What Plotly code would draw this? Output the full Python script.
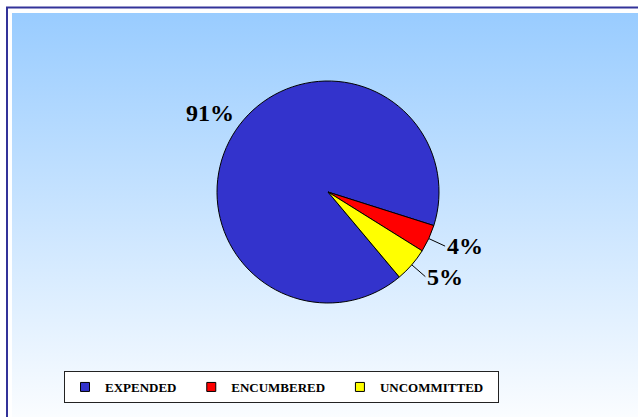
import math
import plotly.graph_objects as go

# ---- data -------------------------------------------------------------
categories = ["EXPENDED", "ENCUMBERED", "UNCOMMITTED"]
shares = [91, 4, 5]                      # percent of total
slice_colors = ["#3333CC", "#FF0000", "#FFFF00"]

# ---- layout constants (pixels) -----------------------------------------
W, H = 638, 417
FONT = "Times New Roman, Liberation Serif, Times, serif"
CX, CY, R = 328, 192, 111        # pie centre (from top-left) and radius
START_ANGLE = 140                # first slice starts here, clockwise from 12 o'clock
LABEL_DIST = 1.28                # centre distance of the large-slice label, in radii
LEADER_LEN = 18                  # leader-line length for small-slice labels
LEGEND_PAD = "\u00a0" * 3        # extra spacing after each legend entry

fig = go.Figure()

# Light-blue to white gradient panel behind the chart, in pixel coordinates
panel_left, panel_top = 12, H - 13
fig.add_trace(go.Scatter(
    x=[panel_left, W + 5, W + 5, panel_left, panel_left],
    y=[-5, -5, panel_top, panel_top, -5],
    mode="lines", line=dict(width=0), fill="toself",
    fillgradient=dict(type="vertical", start=-20, stop=panel_top,
                      colorscale=[[0, "#FFFFFF"], [1, "#99CCFF"]]),
    hoverinfo="skip", showlegend=False,
))

# The pie itself
fig.add_trace(go.Pie(
    labels=categories, values=shares, sort=False,
    direction="clockwise", rotation=START_ANGLE,
    marker=dict(colors=slice_colors, line=dict(color="#000000", width=1)),
    textinfo="none", hoverinfo="label+percent", showlegend=False,
    domain=dict(x=[(CX - R) / W, (CX + R) / W],
                y=[(H - CY - R) / H, (H - CY + R) / H]),
))

# Legend entries with small outlined square swatches
for name, col in zip(categories, slice_colors):
    fig.add_trace(go.Scatter(
        x=[None], y=[None], mode="markers", name=name + LEGEND_PAD,
        marker=dict(symbol="square", size=9, color=col,
                    line=dict(color="#000000", width=1)),
    ))

# Percentage labels placed along each slice's mid-angle
total = sum(shares)
angle = START_ANGLE
annotations = []
label_font = dict(family=FONT, size=24, color="#000000", weight="bold")
for v in shares:
    sweep = 360 * v / total
    mid = math.radians(angle + sweep / 2)
    angle += sweep
    text = f"{round(100 * v / total)}%"
    if v / total >= 0.5:
        annotations.append(dict(
            x=CX + LABEL_DIST * R * math.sin(mid),
            y=(H - CY) + LABEL_DIST * R * math.cos(mid),
            xref="x", yref="y", text=text, showarrow=False, font=label_font,
        ))
    else:
        # leader line from the slice edge to the left side of the label
        annotations.append(dict(
            x=CX + R * math.sin(mid), y=(H - CY) + R * math.cos(mid),
            xref="x", yref="y", text=text, xanchor="left", yanchor="middle",
            showarrow=True, arrowhead=0, arrowwidth=1, arrowcolor="#000000",
            standoff=0, ax=LEADER_LEN * math.sin(mid),
            ay=-LEADER_LEN * math.cos(mid), font=label_font,
        ))

fig.update_layout(
    width=W, height=H,
    margin=dict(l=0, r=0, t=0, b=0),
    paper_bgcolor="#FFFFFF", plot_bgcolor="#FFFFFF",
    xaxis=dict(range=[0, W], visible=False, fixedrange=True),
    yaxis=dict(range=[0, H], visible=False, fixedrange=True),
    showlegend=True,
    legend=dict(
        orientation="h", x=64 / W, xanchor="left",
        y=(H - 371) / H, yanchor="top",
        bgcolor="#FFFFFF", bordercolor="#222222", borderwidth=1,
        font=dict(family=FONT, size=13, color="#000000", weight="bold"),
        traceorder="normal",
    ),
    annotations=annotations,
    shapes=[dict(
        type="rect", xref="x", yref="y",
        x0=7, x1=W + 10, y0=-10, y1=H - 7.5,
        line=dict(color="#333399", width=2), fillcolor="rgba(0,0,0,0)",
    )],
    hovermode=False,
)

fig.write_html("out.html")
